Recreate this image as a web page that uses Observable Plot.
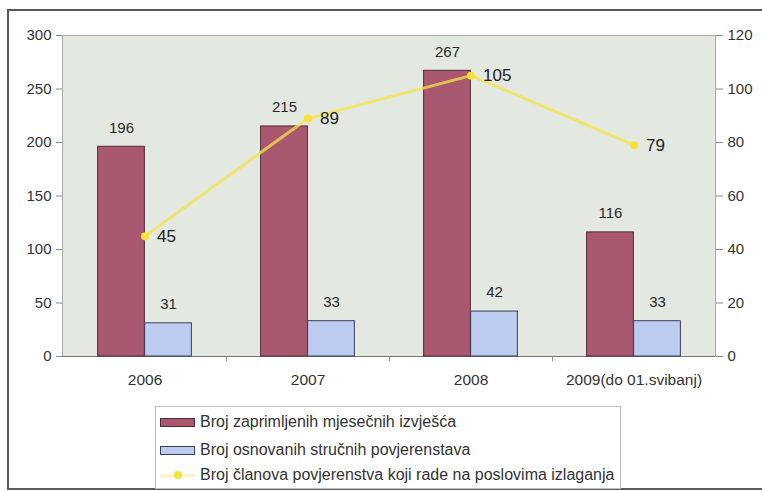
<!DOCTYPE html>
<html>
<head>
<meta charset="utf-8">
<script src="https://cdn.jsdelivr.net/npm/d3@7"></script>
<script src="https://cdn.jsdelivr.net/npm/@observablehq/plot@0.6"></script>
<style>
  html, body { margin: 0; padding: 0; background: #fff; }
  #wrap { position: relative; width: 762px; height: 491px; overflow: hidden; font-family: "Liberation Sans", Arial, sans-serif; }
  #border { position: absolute; left: 7px; top: 9px; width: 780px; height: 481px; border: 2px solid #5a5a5a; box-sizing: border-box; }
  #chart { position: absolute; left: 0; top: 0; }
  #legend { position: absolute; left: 155px; top: 406px; width: 466px; height: 83px; border: 1px solid #c4c4c4; box-sizing: border-box; background: #fff; font-size: 16px; color: #333; }
  .row { position: absolute; left: 4px; height: 20px; display: flex; align-items: center; white-space: nowrap; }
  .sw { width: 35px; height: 9px; margin-right: 5px; box-sizing: border-box; }
</style>
</head>
<body>
<div id="wrap">
  <div id="border"></div>
  <div id="chart"></div>
  <div id="legend"></div>
</div>
<script>
const categories = ["2006", "2007", "2008", "2009(do 01.svibanj)"];
const reports = [196, 215, 267, 116];
const committees = [31, 33, 42, 33];
const members = [45, 89, 105, 79];
const leftTicks = [0, 50, 100, 150, 200, 250, 300];
const rightTicks = [0, 20, 40, 60, 80, 100, 120];
const seriesNames = [
  "Broj zaprimljenih mjesečnih izvješća",
  "Broj osnovanih stručnih povjerenstava",
  "Broj članova povjerenstva koji rade na poslovima izlaganja"
];
const colors = { red: "#a9586f", redStroke: "#4e2a38", blue: "#bccbf0", blueStroke: "#3c3f55", yellow: "#f3e548" };

const ratio = leftTicks[leftTicks.length - 1] / rightTicks[rightTicks.length - 1];
const table = categories.map((c, i) => ({ cat: c, reports: reports[i], committees: committees[i], members: members[i] }));

const W = 762, H = 392;
const mL = 62, mR = 47, mT = 35, mB = H - 356;
const bw = (W - mL - mR) / categories.length;
const barW = 47;

const chart = Plot.plot({
  width: W, height: H,
  marginLeft: mL, marginRight: mR, marginTop: mT, marginBottom: mB,
  style: { fontFamily: "Liberation Sans, Arial, sans-serif", fontSize: "15px", color: "#333", background: "transparent" },
  x: { type: "band", domain: categories, padding: 0, label: null },
  y: { domain: [0, 300], label: null },
  marks: [
    Plot.frame({ fill: "#e3e8e0", stroke: "#a8aba8" }),
    Plot.ruleY([0], { stroke: "#777" }),
    Plot.axisY({ ticks: leftTicks, tickSize: 6, tickPadding: 5, fontSize: 15, label: null, stroke: "#888" }),
    Plot.axisY({ anchor: "right", ticks: leftTicks, tickFormat: d => d / ratio, tickSize: 7, tickPadding: 5, fontSize: 15, label: null, stroke: "#888" }),
    Plot.axisX({ tickSize: 0, tickPadding: 17, fontSize: 15.5, label: null }),
    Plot.ruleX(categories.slice(0, -1), { x: d => d, y1: 0, y2: -5, dx: bw / 2, stroke: "#888" }),
    Plot.barY(table, { x: "cat", y: "reports", fill: colors.red, stroke: colors.redStroke, strokeWidth: 1, insetLeft: bw / 2 - barW, insetRight: bw / 2 }),
    Plot.barY(table, { x: "cat", y: "committees", fill: colors.blue, stroke: colors.blueStroke, strokeWidth: 1, insetLeft: bw / 2, insetRight: bw / 2 - barW }),
    Plot.text(table, { x: "cat", y: "reports", text: d => String(d.reports), dx: -barW / 2, dy: -19, fontSize: 15, fill: "#2a2a2a" }),
    Plot.text(table, { x: "cat", y: "committees", text: d => String(d.committees), dx: barW / 2, dy: -19, fontSize: 15, fill: "#2a2a2a" }),
    Plot.line(table, { x: "cat", y: d => d.members * ratio, stroke: colors.yellow, strokeWidth: 3, strokeOpacity: 0.75 }),
    Plot.dot(table, { x: "cat", y: d => d.members * ratio, r: 4, fill: "#f5e23a", stroke: "none" }),
    Plot.text(table, { x: "cat", y: d => d.members * ratio, text: d => String(d.members), dx: 12, textAnchor: "start", fontSize: 17, fill: "#222" })
  ]
});
document.getElementById("chart").appendChild(chart);

const legend = document.getElementById("legend");
const rowsTop = [5, 33, 58];
seriesNames.forEach((name, i) => {
  const row = document.createElement("div");
  row.className = "row";
  row.style.top = rowsTop[i] + "px";
  const sw = document.createElement("div");
  sw.className = "sw";
  if (i === 0) { sw.style.background = colors.red; sw.style.border = "1px solid " + colors.redStroke; }
  else if (i === 1) { sw.style.background = colors.blue; sw.style.border = "1px solid " + colors.blueStroke; }
  else {
    sw.style.background = "#f8f5c4";
    sw.style.height = "3px";
    sw.style.position = "relative";
    const d = document.createElement("div");
    d.style.cssText = "position:absolute;left:14px;top:-3px;width:8px;height:8px;border-radius:50%;background:#f5e23a;";
    sw.appendChild(d);
  }
  const t = document.createElement("span");
  t.textContent = name;
  row.appendChild(sw);
  row.appendChild(t);
  legend.appendChild(row);
});
</script>
</body>
</html>
